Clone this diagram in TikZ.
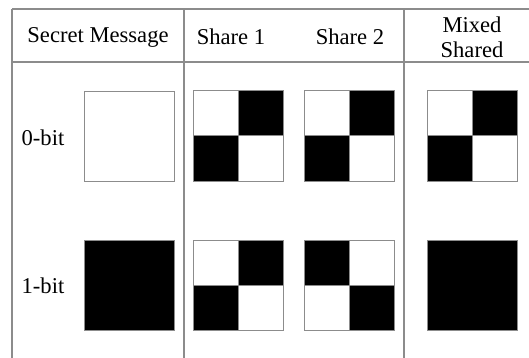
\documentclass[tikz,border=0pt]{standalone}
\usepackage{fontspec}
\setmainfont{Liberation Serif}
\begin{document}
\begin{tikzpicture}[x=1pt,y=-1pt,
  rule/.style={draw=black!45,line width=1.3pt},
  cell/.style={draw=black!45,line width=1pt,minimum size=45pt,inner sep=0pt,outer sep=0pt,anchor=north west},
  wcell/.style={cell,fill=white},
  bcell/.style={cell,fill=black},
  big/.style={draw=black!45,line width=1pt,minimum size=90pt,inner sep=0pt,anchor=north west},
  lab/.style={font=\fontsize{22.6}{25}\selectfont,inner sep=0pt,align=center}]
\useasboundingbox (0,0) rectangle (529,358);
% table rules
\coordinate (tl) at (12,9);
\coordinate (tr) at (529,9);
\coordinate (hl) at (12,62);
\coordinate (hr) at (529,62);
\coordinate (bl) at (12,358);
\coordinate (d1t) at (184,9);
\coordinate (d1b) at (184,358);
\coordinate (d2t) at (404,9);
\coordinate (d2b) at (404,358);
\draw[rule] (tl) -- (tr);
\draw[rule] (hl) -- (hr);
\draw[rule] (tl) -- (bl);
\draw[rule] (d1t) -- (d1b);
\draw[rule] (d2t) -- (d2b);
% headers
\node[lab] (hsm) at (98,37) {Secret Message};
\node[lab] (hs1) at (231,37) {Share 1};
\node[lab] (hs2) at (350,37) {Share 2};
\node[lab] (hmx) at (472,37) {Mixed\\Shared};
% row labels
\node[lab] (r0) at (43,138) {0-bit};
\node[lab] (r1) at (43,286) {1-bit};
% secret message
\node[big,fill=white] (s0) at (84,91) {};
\node[big,fill=black] (s1) at (84,240) {};
% row 0 shares
\node[wcell] (a0a) at (193,91) {};
\node[bcell] (a0b) at (238,91) {};
\node[bcell] (a0c) at (193,136) {};
\node[wcell] (a0d) at (238,136) {};
\node[wcell] (b0a) at (304,91) {};
\node[bcell] (b0b) at (349,91) {};
\node[bcell] (b0c) at (304,136) {};
\node[wcell] (b0d) at (349,136) {};
\node[wcell] (m0a) at (427,91) {};
\node[bcell] (m0b) at (472,91) {};
\node[bcell] (m0c) at (427,136) {};
\node[wcell] (m0d) at (472,136) {};
% row 1 shares
\node[wcell] (a1a) at (193,240) {};
\node[bcell] (a1b) at (238,240) {};
\node[bcell] (a1c) at (193,285) {};
\node[wcell] (a1d) at (238,285) {};
\node[bcell] (b1a) at (304,240) {};
\node[wcell] (b1b) at (349,240) {};
\node[wcell] (b1c) at (304,285) {};
\node[bcell] (b1d) at (349,285) {};
\node[big,fill=black] (m1) at (427,240) {};
\end{tikzpicture}
\end{document}
